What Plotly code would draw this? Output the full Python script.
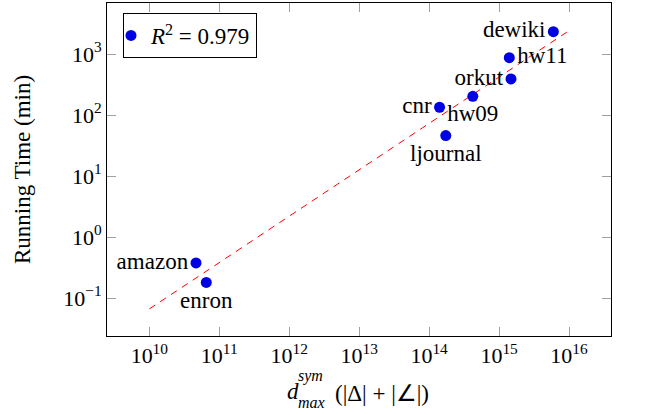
import numpy as np
import plotly.graph_objects as go

# ---- data ----
names = ["dewiki", "hw11", "orkut", "hw09", "cnr", "ljournal", "amazon", "enron"]
dmax = [5.97e15, 1.40e15, 1.48e15, 4.21e14, 1.41e14, 1.73e14, 4.65e10, 6.52e10]
runtime_min = [2320, 870, 390, 202, 134, 46, 0.375, 0.18]
label_pos = ["middle left", "middle right", "middle left", "bottom center",
             "middle left", "bottom center", "middle left", "bottom center"]
legend_label = "<i>R</i><sup>2</sup> = 0.979"
fit_x_ends = [1e10, 1e16]

x_tickvals = [1e10, 1e11, 1e12, 1e13, 1e14, 1e15, 1e16]
x_ticktext = ["10<sup>10</sup>", "10<sup>11</sup>", "10<sup>12</sup>", "10<sup>13</sup>",
              "10<sup>14</sup>", "10<sup>15</sup>", "10<sup>16</sup>"]
y_tickvals = [1e-1, 1e0, 1e1, 1e2, 1e3]
y_ticktext = ["10<sup>\u22121</sup>", "10<sup>0</sup>", "10<sup>1</sup>",
              "10<sup>2</sup>", "10<sup>3</sup>"]
y_title = "Running Time (min)"

# ---- least-squares fit in log-log space ----
lx = np.log10(dmax)
ly = np.log10(runtime_min)
slope, intercept = np.polyfit(lx, ly, 1)
fx = np.array(fit_x_ends)
fy = 10 ** (intercept + slope * np.log10(fx))

FONT = "Liberation Serif, Times New Roman, serif"
W, H = 645, 415
ML, MR, MT, MB = 107, 34, 3, 79
PW, PH = W - ML - MR, H - MT - MB

def px(x):
    return (x - ML) / PW

def py(y):
    return (H - MB - y) / PH

fig = go.Figure()
fig.add_trace(go.Scatter(
    x=fx, y=fy, mode="lines",
    line=dict(color="#ff0000", width=1, dash="7px,6px"),
    showlegend=False, hoverinfo="skip"))
fig.add_trace(go.Scatter(
    x=dmax, y=runtime_min, mode="markers+text",
    text=names, textposition=label_pos,
    textfont=dict(family=FONT, size=23, color="black"),
    marker=dict(color="#0000e6", size=11),
    name=legend_label, showlegend=True))

axis_common = dict(
    type="log", showgrid=False, zeroline=False,
    showline=True, linecolor="black", linewidth=1, mirror="ticks",
    ticks="inside", ticklen=9, tickcolor="#a0a0a0", tickwidth=1,
    tickfont=dict(family=FONT, size=22, color="black"),
    automargin=False,
)

fig.update_xaxes(**axis_common, range=[9.395, 16.6],
                 tickvals=x_tickvals, ticktext=x_ticktext)
fig.update_yaxes(**axis_common, range=[-1.623, 3.836],
                 tickvals=y_tickvals, ticktext=y_ticktext,
                 title=dict(text=y_title, font=dict(family=FONT, size=23, color="black"),
                            standoff=26))

annos = [
    dict(text="<i>d</i>", x=px(285), y=py(391), size=23),
    dict(text="<i>sym</i>", x=px(296), y=py(376), size=16),
    dict(text="<i>max</i>", x=px(296), y=py(402), size=16),
    dict(text="(|\u0394| + |\u2220|)", x=px(333), y=py(393), size=23),
]
for a in annos:
    fig.add_annotation(text=a["text"], x=a["x"], y=a["y"], xref="paper", yref="paper",
                       xanchor="left", yanchor="middle", showarrow=False,
                       font=dict(family=FONT, size=a["size"], color="black"))

fig.update_layout(
    width=W, height=H,
    margin=dict(l=ML, r=MR, t=MT, b=MB, autoexpand=False),
    paper_bgcolor="white", plot_bgcolor="white",
    font=dict(family=FONT, size=22, color="black"),
    legend=dict(x=px(123), y=py(13), xanchor="left", yanchor="top",
                bordercolor="black", borderwidth=1, bgcolor="white",
                font=dict(family=FONT, size=23, color="black"),
                itemwidth=30, indentation=-13),
)

fig.write_html("out.html")
